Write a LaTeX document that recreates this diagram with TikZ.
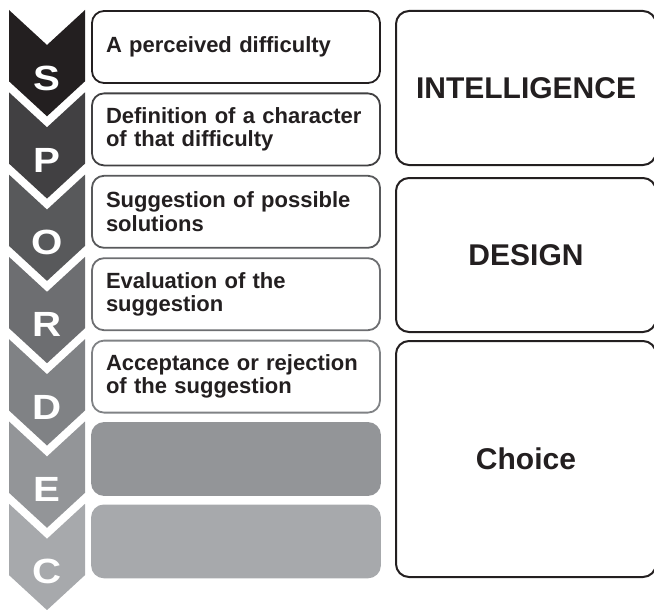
\documentclass[tikz,border=0pt]{standalone}
\usepackage{graphicx}
\usepackage{fontspec}
\setmainfont{Liberation Sans}[Ligatures=NoCommon]
\usepackage{tikz}
\definecolor{SpordecK1}{HTML}{231F20}
\definecolor{SpordecK2}{HTML}{414042}
\definecolor{SpordecK3}{HTML}{58595B}
\definecolor{SpordecK4}{HTML}{6D6E71}
\definecolor{SpordecK5}{HTML}{808285}
\definecolor{SpordecK6}{HTML}{939598}
\definecolor{SpordecK7}{HTML}{A7A9AC}

\begin{document}
\begin{tikzpicture}[x=1pt,y=-1pt,
  chev letter/.style={text=white,font=\bfseries\fontsize{35}{35}\selectfont,inner sep=0pt},
  stage box/.style={draw=#1,line width=1.8pt,rounded corners=12pt,minimum width=288pt,minimum height=72pt,text width=260pt,inner xsep=14pt,align=left,text=SpordecK1,font=\bfseries\fontsize{22}{23.5}\selectfont},
  gray box/.style={draw=#1,fill=#1,line width=1.8pt,rounded corners=12pt,minimum width=288pt,minimum height=72pt},
  phase box/.style={draw=SpordecK1,line width=2pt,rounded corners=13pt,minimum width=260pt,minimum height=#1,text=SpordecK1,font=\bfseries\fontsize{30}{30}\selectfont}]
\useasboundingbox (0,0) rectangle (654,610);
\clip (0,0) rectangle (654,610);
% chevrons
\foreach \i/\clr/\ltr in %
{0/SpordecK1/S,1/SpordecK2/P,2/SpordecK3/O,3/SpordecK4/R,4/SpordecK5/D,5/SpordecK6/E,6/SpordecK7/C} {
   \pgfmathsetmacro\chevtop{10+82.3*\i}
   \fill[\clr] (9,\chevtop) -- (47,{\chevtop+35}) -- (85,\chevtop) -- (85,{\chevtop+71.3})
      -- (47,{\chevtop+106.3}) -- (9,{\chevtop+71.3}) -- cycle;
   \node[chev letter] (ltr\ltr) at (47,{\chevtop+68}) {\scalebox{1.15}[1]{\ltr}};
}
% steps
\foreach \i/\clr/\txt in %
{0/SpordecK1/{A perceived difficulty},
 1/SpordecK2/{Definition of a character\\of that difficulty},
 2/SpordecK3/{Suggestion of possible\\solutions},
 3/SpordecK4/{Evaluation of the\\suggestion},
 4/SpordecK5/{Acceptance or rejection\\of the suggestion}} {
   \node[stage box=\clr] (step\i) at (236,{47+82.4*\i}) {\txt};
}
\foreach \i/\clr in {5/SpordecK6,6/SpordecK7} {
   \node[gray box=\clr] (step\i) at (236,{47+82.4*\i}) {};
}
% phases
\node[phase box=154pt] (intel) at (526,88) {INTELLIGENCE};
\node[phase box=154pt] (design) at (526,255) {DESIGN};
\node[phase box=236pt] (choice) at (526,459) {Choice};
\end{tikzpicture}
\end{document}
